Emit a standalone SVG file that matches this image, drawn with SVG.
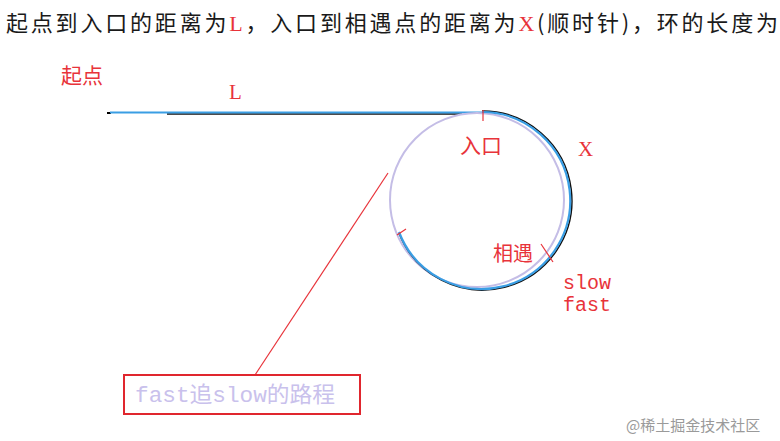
<svg xmlns="http://www.w3.org/2000/svg" width="780" height="441" viewBox="0 0 780 441">
<style>
.cjk{font-family:"Noto Sans CJK SC","Noto Sans CJK JP",sans-serif}
.red{fill:#e8333a}
.mono{font-family:"Liberation Mono","DejaVu Sans Mono",monospace}
.rl{stroke:#e8333a;stroke-width:1.2;fill:none}
</style>
<rect width="780" height="441" fill="#fff"/>
<g id="title">
<text x="6" y="31" font-size="22" class="cjk" fill="#1a1a1a" textLength="772" lengthAdjust="spacing">起点到入口的距离为<tspan class="red" font-family="Liberation Serif">L</tspan>，入口到相遇点的距离为<tspan class="red" font-family="Liberation Serif">X</tspan>(顺时针)，环的长度为</text>
</g>
<g id="start-label"><text x="61" y="83" font-size="21" class="cjk red">起点</text></g>
<g id="L-label"><text x="229" y="99" font-size="21" font-family="Liberation Serif" class="red">L</text></g>
<g id="connectors">
<line x1="107" y1="113" x2="111" y2="113" stroke="#000" stroke-width="2"/>
<line x1="167" y1="114" x2="462" y2="114" stroke="#111" stroke-width="1.5"/>
<line x1="110" y1="112.5" x2="485" y2="112.5" stroke="#3a9ee4" stroke-width="2"/>
<circle cx="477" cy="200" r="87" fill="none" stroke="#c4bde6" stroke-width="2"/>
<path d="M482 111 A89.5 89.5 0 1 1 399 233" fill="none" stroke="#111" stroke-width="1.5"/>
<path d="M482 112 A88.5 88.5 0 1 1 399 232" fill="none" stroke="#3a9ee4" stroke-width="2.2"/>
<line x1="483" y1="110" x2="483" y2="121" class="rl"/>
<line x1="397" y1="235" x2="406" y2="229" class="rl"/>
<line x1="541" y1="244" x2="553" y2="262" class="rl"/>
<line x1="255" y1="375" x2="388" y2="173" class="rl"/>
</g>
<g id="entrance"><text x="460" y="153" font-size="21" class="cjk red">入口</text></g>
<g id="X-label"><text x="578" y="156" font-size="21" font-family="Liberation Serif" class="red">X</text></g>
<g id="meet"><text x="493" y="261" font-size="20" class="cjk red">相遇</text></g>
<g id="slow"><text x="563" y="289" font-size="20" class="mono red">slow</text></g>
<g id="fast"><text x="563" y="311" font-size="20" class="mono red">fast</text></g>
<g id="path-box">
<rect x="124" y="375" width="236" height="39" fill="#fff" stroke="#e0262e" stroke-width="2"/>
<text x="135" y="402" font-size="22" class="cjk" fill="#c9c1ec" textLength="200" lengthAdjust="spacingAndGlyphs"><tspan class="mono">fast</tspan>追<tspan class="mono">slow</tspan>的路程</text>
</g>
<g id="watermark"><text x="626" y="431" font-size="15" class="cjk" fill="#9a9a9a">@稀土掘金技术社区</text></g>
</svg>
